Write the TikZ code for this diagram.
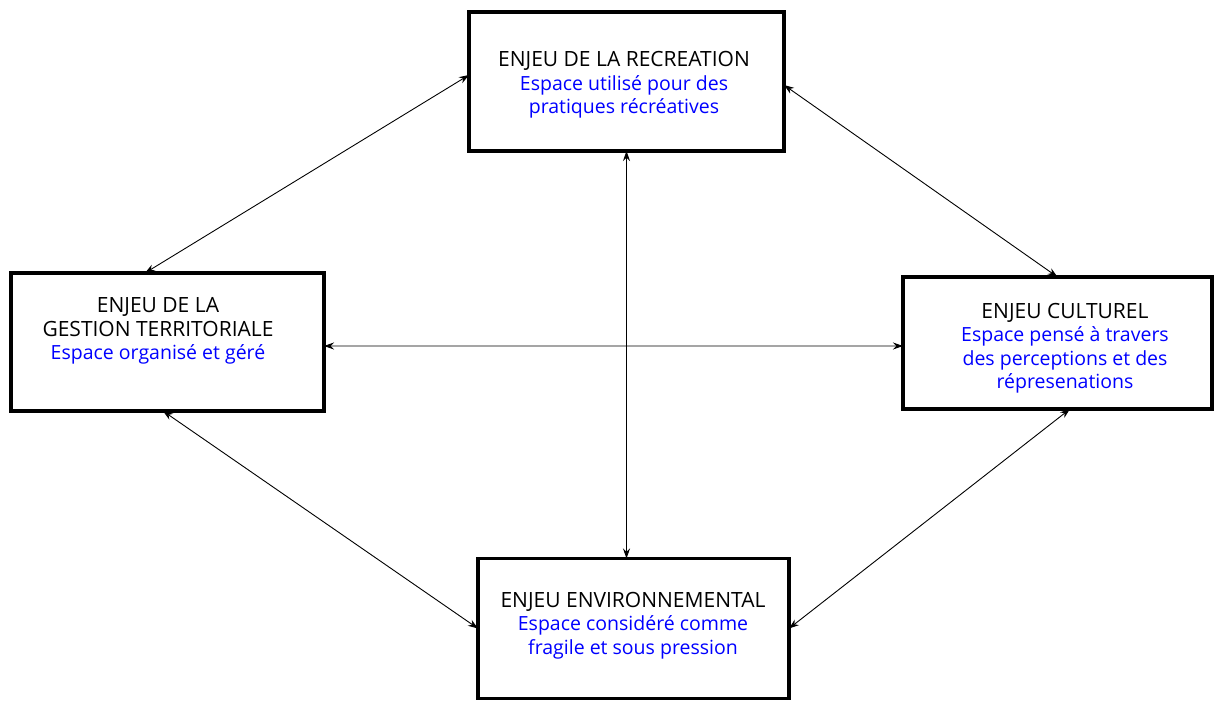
\documentclass[tikz,border=0pt]{standalone}
\usepackage{fontspec}
\setmainfont{Open Sans}
\usetikzlibrary{arrows.meta}
\newcommand{\enjeutitre}[1]{{\fontsize{21bp}{23.5bp}\selectfont #1}}
\begin{document}
\begin{tikzpicture}[x=1bp,y=-1bp,inner sep=0pt,outer sep=0pt,
enjeu/.style={draw,rectangle,line width=3.5bp},
enjeutxt/.style={align=center,font=\fontsize{19.5bp}{23.5bp}\selectfont},
lien/.style={<->,line width=0.9bp,>={Stealth[length=10bp,width=7bp]}}]
\useasboundingbox (0,0) rectangle (1215,702);
\draw (626.5,81.5) node[enjeu,minimum width=315bp,minimum height=139bp] (recreation) {};
\draw (167.5,342) node[enjeu,minimum width=313bp,minimum height=138bp] (gestion) {};
\draw (1057.5,343) node[enjeu,minimum width=309bp,minimum height=132bp] (culturel) {};
\draw (633.5,628.5) node[enjeu,minimum width=311bp,minimum height=140bp] (environnement) {};
\draw (624,85) node[enjeutxt] (recreation-txt) {\enjeutitre{ENJEU DE LA RECREATION}\\
\textcolor{blue}{Espace utilisé pour des}\\\textcolor{blue}{pratiques récréatives}};
\draw (158,331) node[enjeutxt] (gestion-txt) {\enjeutitre{ENJEU DE LA}\\\enjeutitre{GESTION TERRITORIALE}\\
\textcolor{blue}{Espace organisé et géré}};
\draw (1065,348) node[enjeutxt] (culturel-txt) {\enjeutitre{ENJEU CULTUREL}\\
\textcolor{blue}{Espace pensé à travers}\\\textcolor{blue}{des perceptions et des}\\
\textcolor{blue}{répresenations}};
\draw (633,625.5) node[enjeutxt] (environnement-txt) {\enjeutitre{ENJEU ENVIRONNEMENTAL}\\
\textcolor{blue}{Espace considéré comme}\\\textcolor{blue}{fragile et sous pression}};
\draw[lien] ([yshift=6.5bp]recreation.west) -- ([xshift=-22.5bp]gestion.north);
\draw[lien] ([yshift=-3.5bp]recreation.east) -- (culturel.north);
\draw[lien] (recreation.south) -- (recreation.south |- environnement.north);
\draw[lien] ([yshift=-4bp]gestion.east) -- ([yshift=-3bp]culturel.west);
\draw[lien] ([xshift=-4.5bp]gestion.south) -- (environnement.west);
\draw[lien] ([xshift=12.5bp]culturel.south) -- (environnement.east);
\end{tikzpicture}
\end{document}
